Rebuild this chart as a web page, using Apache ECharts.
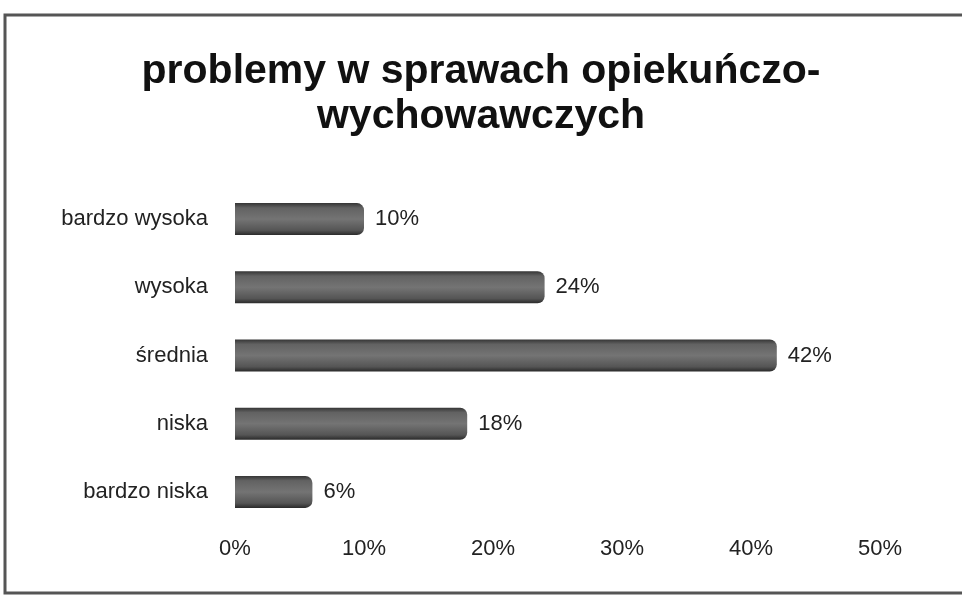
<!DOCTYPE html>
<html>
<head>
<meta charset="utf-8">
<script src="https://cdn.jsdelivr.net/npm/echarts@6/dist/echarts.min.js"></script>
<style>
  html, body { margin: 0; padding: 0; background: #fff; }
  #chart { width: 962px; height: 596px; }
</style>
</head>
<body>
<div id="chart"></div>
<script>
// dane z wykresu
var titleText = 'problemy w sprawach opiekuńczo-\nwychowawczych';
var categories = ['bardzo niska', 'niska', 'średnia', 'wysoka', 'bardzo wysoka'];
var values = [6, 18, 42, 24, 10];
var axisMax = 50;
var axisStep = 10;

var chart = echarts.init(document.getElementById('chart'));

var barColor = new echarts.graphic.LinearGradient(0, 0, 0, 1, [
    {offset: 0, color: '#353535'},
    {offset: 0.15, color: '#626262'},
    {offset: 0.5, color: '#747474'},
    {offset: 0.85, color: '#555'},
    {offset: 1, color: '#2a2a2a'}
]);

var option = {
    backgroundColor: '#fff',
    animation: false,
    title: {
        text: titleText,
        left: 'center',
        top: 44,
        textStyle: {
            fontFamily: 'Liberation Sans',
            fontWeight: 'bold',
            fontSize: 41,
            lineHeight: 45,
            color: '#111'
        }
    },
    graphic: [{
        type: 'rect',
        shape: {x: 5, y: 15, width: 970, height: 578},
        style: {fill: 'none', stroke: '#555', lineWidth: 3},
        silent: true
    }],
    grid: {
        left: 235,
        right: 82,
        top: 185,
        bottom: 70
    },
    xAxis: {
        type: 'value',
        min: 0,
        max: axisMax,
        interval: axisStep,
        axisLine: {show: false},
        axisTick: {show: false},
        splitLine: {show: false},
        axisLabel: {
            formatter: '{value}%',
            fontFamily: 'Liberation Sans',
            fontSize: 22,
            color: '#222',
            margin: 12
        }
    },
    yAxis: {
        type: 'category',
        data: categories,
        axisLine: {show: false},
        axisTick: {show: false},
        axisLabel: {
            fontFamily: 'Liberation Sans',
            fontSize: 22,
            color: '#222',
            margin: 27
        }
    },
    series: [{
        type: 'bar',
        data: values,
        barWidth: 32,
        itemStyle: {
            color: barColor,
            borderRadius: [0, 7, 7, 0]
        },
        label: {
            show: true,
            position: 'right',
            distance: 11,
            formatter: '{c}%',
            fontFamily: 'Liberation Sans',
            fontSize: 22,
            color: '#222'
        }
    }]
};

chart.setOption(option);
</script>
</body>
</html>
